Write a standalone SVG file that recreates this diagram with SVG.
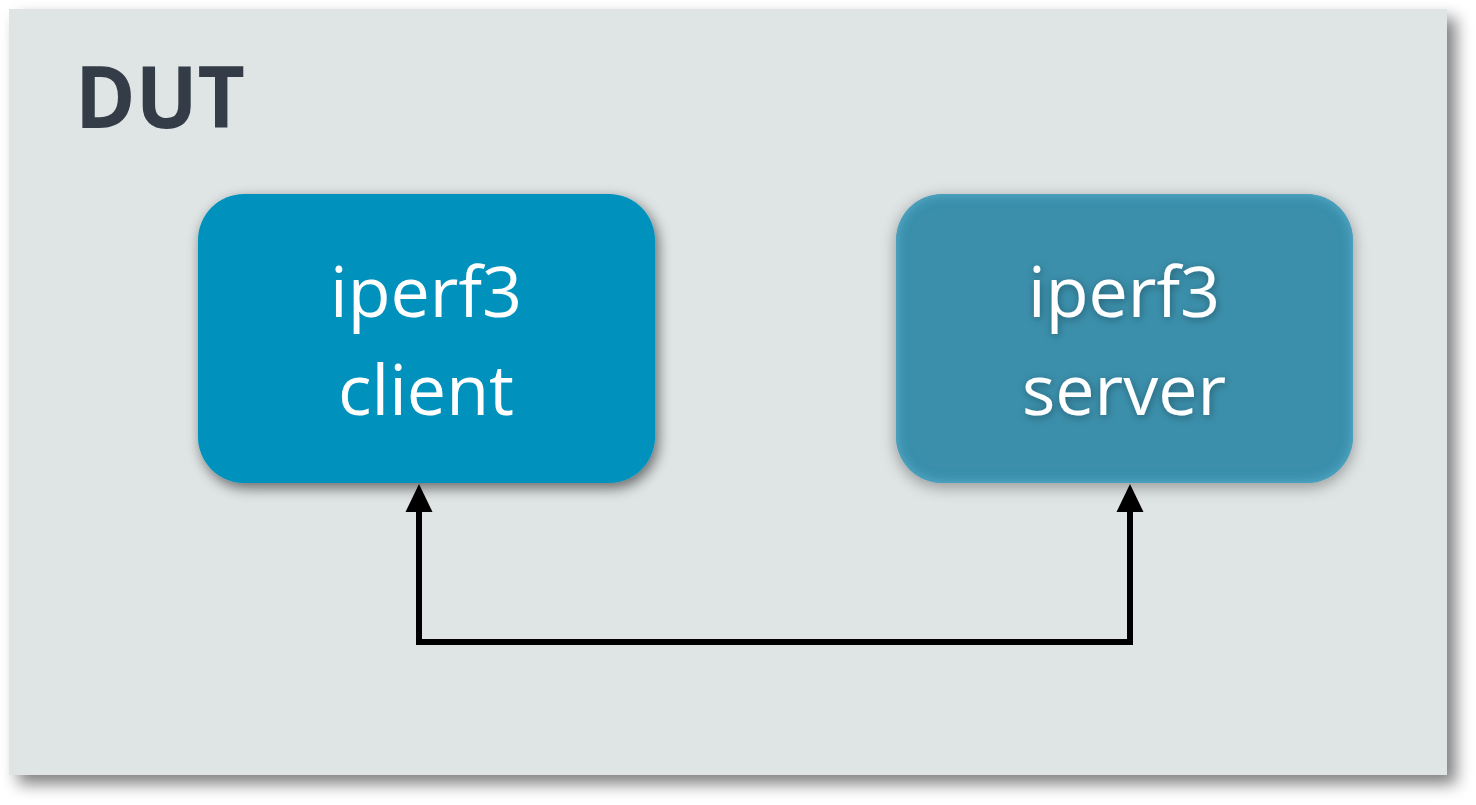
<svg xmlns="http://www.w3.org/2000/svg" width="1476" height="805" viewBox="0 0 1476 805">
<defs>
<filter id="panelShadow" x="-5%" y="-5%" width="115%" height="115%">
<feGaussianBlur in="SourceAlpha" stdDeviation="8"/>
<feOffset dx="9" dy="9" result="b"/>
<feComponentTransfer><feFuncA type="linear" slope="0.5"/></feComponentTransfer>
<feMerge><feMergeNode/><feMergeNode in="SourceGraphic"/></feMerge>
</filter>
<filter id="boxShadow" x="-10%" y="-10%" width="125%" height="130%">
<feGaussianBlur in="SourceAlpha" stdDeviation="7"/>
<feOffset dx="3" dy="5" result="b"/>
<feComponentTransfer><feFuncA type="linear" slope="0.55"/></feComponentTransfer>
<feMerge><feMergeNode/><feMergeNode in="SourceGraphic"/></feMerge>
</filter>
<filter id="glowBox" x="-10%" y="-10%" width="125%" height="130%">
<feGaussianBlur in="SourceAlpha" stdDeviation="8"/>
<feOffset dx="0" dy="4"/>
<feComponentTransfer><feFuncA type="linear" slope="0.35"/></feComponentTransfer>
<feMerge><feMergeNode/><feMergeNode in="SourceGraphic"/></feMerge>
</filter>
<filter id="innerGlow" x="-5%" y="-5%" width="110%" height="110%">
<feGaussianBlur in="SourceAlpha" stdDeviation="6" result="blur"/>
<feComposite in="SourceAlpha" in2="blur" operator="arithmetic" k2="1" k3="-1" result="edge"/>
<feFlood flood-color="#5ab3d0" flood-opacity="0.9"/>
<feComposite in2="edge" operator="in" result="glow"/>
<feMerge><feMergeNode in="SourceGraphic"/><feMergeNode in="glow"/></feMerge>
</filter>
<filter id="textShadow" x="-10%" y="-20%" width="120%" height="140%">
<feGaussianBlur in="SourceAlpha" stdDeviation="4"/>
<feOffset dx="1" dy="2"/>
<feComponentTransfer><feFuncA type="linear" slope="0.35"/></feComponentTransfer>
<feMerge><feMergeNode/><feMergeNode in="SourceGraphic"/></feMerge>
</filter>
</defs>
<style>
.lbl{font-family:"Open Sans","Noto Sans",sans-serif;font-size:70px;fill:#ffffff;text-anchor:middle}
.conn{fill:none;stroke:#000;stroke-width:6}
.head{fill:#000}
</style>
<g id="dut">
<rect x="9" y="9" width="1438" height="766" fill="#dfe4e4" filter="url(#panelShadow)"/>
<text x="75" y="128" font-family="'Open Sans','Noto Sans',sans-serif" font-weight="bold" font-size="86" fill="#343d47" textLength="170" lengthAdjust="spacingAndGlyphs">DUT</text>
</g>
<g id="client">
<rect x="198" y="194" width="457" height="289" rx="46" ry="46" fill="#0092bc" filter="url(#boxShadow)"/>
<text class="lbl" x="426" y="317">iperf3</text>
<text class="lbl" x="426" y="415">client</text>
</g>
<g id="server">
<g filter="url(#glowBox)">
<rect x="896" y="194" width="457" height="289" rx="46" ry="46" fill="#3a8fab" filter="url(#innerGlow)"/>
</g>
<g filter="url(#textShadow)">
<text class="lbl" x="1124" y="317">iperf3</text>
<text class="lbl" x="1124" y="415">server</text>
</g>
</g>
<g id="connectors">
<path class="conn" d="M419,511 L419,642 L1130,642 L1130,511"/>
<path class="head" d="M405.5,512 L419,484 L432.5,512 Z"/>
<path class="head" d="M1116.5,512 L1130,484 L1143.5,512 Z"/>
</g>
</svg>
